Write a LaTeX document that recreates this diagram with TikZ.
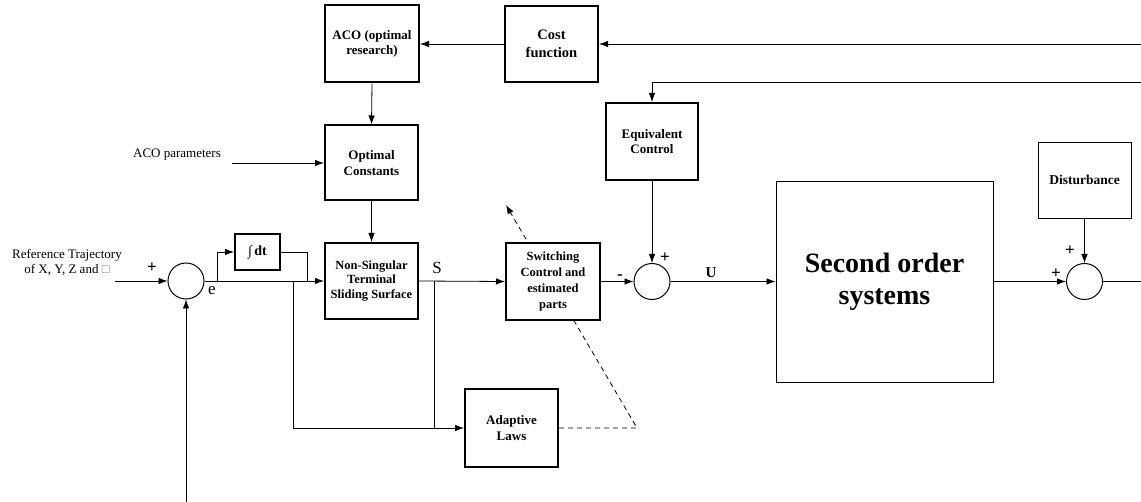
\documentclass[tikz,border=0pt]{standalone}
\usepackage{fontspec}
\setmainfont{Liberation Serif}
\usetikzlibrary{arrows.meta}

\begin{document}
\begin{tikzpicture}[x=1pt,y=1pt,line width=0.8pt,>={Latex[length=9pt,width=6.5pt]}]
    \tikzstyle{every node}+=[inner sep=0pt]
    \tikzstyle{blk}=[draw,line width=2pt,fill=white,align=center,font=\bfseries\fontsize{13}{15.5}\selectfont]
    \tikzstyle{tblk}=[draw,line width=0.9pt,fill=white,align=center]
    \tikzstyle{sum}=[draw,circle,fill=white,line width=1pt,minimum size=36pt]
    \tikzstyle{sgn}=[font=\bfseries\fontsize{17}{17}\selectfont]
    \tikzstyle{lbl}=[font=\fontsize{13}{15}\selectfont,align=center]
    \useasboundingbox (0,0) rectangle (1141,-502);
    % free ends
    \coordinate (rin) at (115,-281);
    \coordinate (fb) at (186,-502);
    \coordinate (acop) at (232,-163);
    \coordinate (fb1) at (1141,-44);
    \coordinate (fb2) at (1141,-82);
    \coordinate (yout) at (1141,-281.5);
    \coordinate (b1) at (217,-281);
    \coordinate (b2) at (307,-281);
    \coordinate (b3) at (293,-281);
    \coordinate (b4) at (434,-281);
    \coordinate (dk) at (637,-428);
    \coordinate (dtip) at (506,-205);
    % blocks
    \node [blk,minimum width=94pt,minimum height=77pt] (aco) at (372,-44) {ACO (optimal\\research)};
    \node [blk,minimum width=93pt,minimum height=76pt,font=\bfseries\fontsize{14.5}{18}\selectfont] (cost) at (551.5,-44) {Cost\\function};
    \node [blk,minimum width=93pt,minimum height=75pt] (optc) at (371.5,-163) {Optimal\\Constants};
    \node [blk,minimum width=93pt,minimum height=76pt,font=\bfseries\fontsize{12.5}{14.5}\selectfont] (nts) at (371.5,-281) {Non-Singular\\Terminal\\Sliding Surface};
    \node [blk,minimum width=45pt,minimum height=36pt,font=\bfseries\fontsize{14}{14}\selectfont] (intg) at (257.5,-252) {{\mdseries ∫}\,dt};
    \node [blk,minimum width=93pt,minimum height=78pt] (adapt) at (511.5,-428) {Adaptive\\Laws};
    \draw [dash pattern=on 5pt off 4pt,->] (adapt.east) -- (dk) -- (dtip);
    \node [blk,minimum width=94pt,minimum height=77pt,font=\bfseries\fontsize{12.5}{16}\selectfont] (sw) at (553,-281.5) {Switching\\Control and\\estimated\\parts};
    \node [blk,minimum width=92pt,minimum height=77pt] (eqc) at (652,-141.5) {Equivalent\\Control};
    \node [tblk,minimum width=217pt,minimum height=201pt,font=\bfseries\fontsize{28}{32}\selectfont] (plant) at (884.5,-281.5) {Second order\\systems};
    \node [tblk,minimum width=93pt,minimum height=76pt,font=\bfseries\fontsize{13.5}{15}\selectfont] (dist) at (1084.5,-180) {Disturbance};
    \node [sum] (s1) at (186,-281) {};
    \node [sum] (s2) at (652,-281.5) {};
    \node [sum] (s3) at (1084.5,-281.5) {};
    % connectors
    \draw [->] (rin) -- (s1.west);
    \draw [->] (fb) -- (s1.south);
    \draw [->] (s1.east) -- (nts.west);
    \draw [->] (b1) |- (intg.west);
    \draw (intg.east) -| (b2);
    \draw [->] (b3) |- (adapt.west);
    \draw [->] (nts.east) -- (sw.west);
    \draw (b4) -- (b4 |- adapt.west);
    \draw [->] (sw.east) -- (s2.west);
    \draw [->] (eqc.south) -- (s2.north);
    \draw [->] (s2.east) -- (plant.west);
    \draw [->] (plant.east) -- (s3.west);
    \draw [->] (dist.south) -- (s3.north);
    \draw (s3.east) -- (yout);
    \draw [->] (fb1) -- (cost.east);
    \draw [->] (cost.west) -- (aco.east);
    \draw [->] (aco.south) -- (optc.north);
    \draw [->] (optc.south) -- (nts.north);
    \draw [->] (acop) -- (optc.west);
    \draw [->] (fb2) -| (eqc.north);
    % labels
    \node [lbl] (reftxt) at (67,-262) {Reference Trajectory\\of X, Y, Z and \textcolor{gray}{□}};
    \node [lbl] (acoptxt) at (177,-155) {ACO parameters};
    \node [sgn] (p1) at (152,-268) {+};
    \node [font=\fontsize{17}{17}\selectfont] (le) at (212,-291) {e};
    \node [font=\fontsize{17}{17}\selectfont] (ls) at (437,-268) {S};
    \node [sgn] (m2) at (620,-277) {-};
    \node [sgn] (p2) at (665,-258) {+};
    \node [font=\bfseries\fontsize{15}{15}\selectfont] (lu) at (711,-273) {U};
    \node [sgn] (p3) at (1056,-274) {+};
    \node [sgn] (p4) at (1070,-251) {+};
\end{tikzpicture}
\end{document}
